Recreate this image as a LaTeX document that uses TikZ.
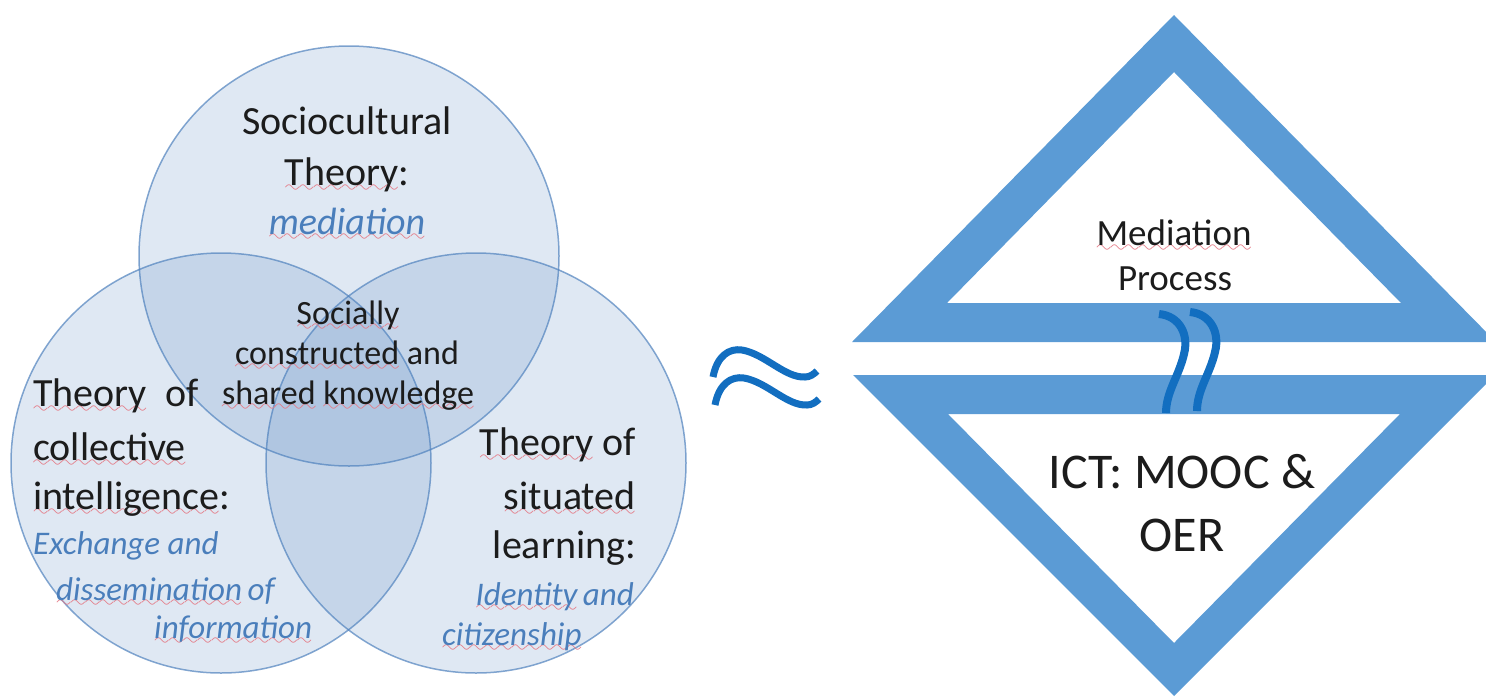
\documentclass[tikz,border=0pt]{standalone}
\usepackage{fontspec}
\setmainfont{Carlito}
\usepackage{xcolor}
\usepackage{tikz}
\usetikzlibrary{positioning}
\definecolor{vennblue}{RGB}{79,129,189}
\definecolor{diablue}{RGB}{91,155,213}
\definecolor{waveblue}{RGB}{18,110,192}
\definecolor{itblue}{RGB}{74,126,187}
\definecolor{squig}{RGB}{228,120,132}
\definecolor{txt}{RGB}{28,28,28}
\font\squigfont=lasy10 at 20pt
\newsavebox\spellbox
\newcommand\spell[1]{\sbox\spellbox{#1}%
  \rlap{\lower7pt\hbox to\wd\spellbox{\color{squig}\xleaders\hbox{\squigfont\char58}\hfill}}%
  \usebox\spellbox}

\begin{document}
\begin{tikzpicture}[x=1pt, y=-1pt,
    venn/.style={fill=vennblue, fill opacity=0.18, draw=vennblue, draw opacity=0.7, line width=1.5pt},
    big/.style={inner sep=0, text=txt, font=\fontsize{40}{50}\selectfont},
    mid/.style={inner sep=0, text=txt, font=\fontsize{34}{41}\selectfont},
    note/.style={inner sep=0, text=itblue, font=\fontsize{33}{42}\selectfont\itshape},
    dia/.style={inner sep=0, text=txt, font=\fontsize{37}{44}\selectfont},
    ict/.style={inner sep=0, text=txt, font=\fontsize{50}{62}\selectfont},
    wave/.style={draw=waveblue, line width=7pt},
    link/.style={draw=waveblue, line width=8pt}]
    \useasboundingbox (0,0) rectangle (1486,697);
            \foreach \cx/\cy in {349/256,221/463,476/463}
            \filldraw[venn] (\cx,\cy) circle[radius=210pt];
            % top circle
            \node[big, anchor=base] (socio) at (347,134) {Sociocultural};%
            \node[big, anchor=base] (sociot) at (347,185) {\spell{Theory}:};%
            \node[note, anchor=base, font=\fontsize{38}{46}\selectfont\itshape] (med) at (347,234) {\spell{mediation}};%
            % centre
            \node[mid, anchor=base] (soc1) at (348,324) {\spell{Socially}};%
            \node[mid, anchor=base] (soc2) at (347,364) {\spell{constructed} and};%
            \node[mid, anchor=base] (soc3) at (348,404) {\spell{shared} \spell{knowledge}};%
            % left circle
            \node[big, anchor=base west] (coll1) at (33,406) {\spell{Theory}\ \ of};%
            \node[big, anchor=base west] (coll2) at (33,460) {\spell{collective}};%
            \node[big, anchor=base west] (coll3) at (33,509) {\spell{intelligence}:};%
            \node[note, anchor=base west] (ex1) at (33,554) {Exchange and};%
            \node[note, anchor=base west] (ex2) at (56,600) {\spell{dissemination}\,of};%
            \node[note, anchor=base west] (ex3) at (154,638) {\spell{information}};%
            % right circle
            \node[big, anchor=base east] (sit1) at (636,455) {\spell{Theory} of};%
            \node[big, anchor=base east] (sit2) at (636,509) {\spell{situated}};%
            \node[big, anchor=base east] (sit3) at (636,558) {learning:};%
            \node[note, anchor=base east] (id1) at (634,605) {\spell{Identity}\,and};%
            \node[note, anchor=base west] (id2) at (442,645) {\spell{citizenship}};%
            % approx sign
            \foreach \dx/\dy in {0/0,2/28}
            \draw[wave, shift={(\dx,\dy)}] (713,377) .. controls (717,356) and (729,348) .. (742,350)
              .. controls (765,354) and (785,378) .. (805,377) .. controls (810,377) and (814,374) .. (817,371);
            % diamond
            \fill[diablue, even odd rule] (1174,15) -- (852,342) -- (1496,342) -- cycle
              (1174,72) -- (947,303) -- (1401,303) -- cycle;
            \fill[diablue, even odd rule] (853,375) -- (1495,375) -- (1174,696) -- cycle
              (948,414) -- (1400,414) -- (1174,643) -- cycle;
            \foreach \dx/\dy in {0/0,31/-2}
            \draw[link, shift={(\dx,\dy)}] (1159,314) .. controls (1180,316) and (1189,335) .. (1184,354)
              .. controls (1179,376) and (1166,392) .. (1166,413);
            \node[dia, anchor=base] (medp1) at (1174,245) {\spell{Mediation}};%
            \node[dia, anchor=base] (medp2) at (1175,290) {Process};%
            \node[ict, anchor=base] (ict1) at (1182,488) {ICT: MOOC \&};%
            \node[ict, anchor=base] (ict2) at (1182,551) {OER};%
      \end{tikzpicture}
\end{document}
